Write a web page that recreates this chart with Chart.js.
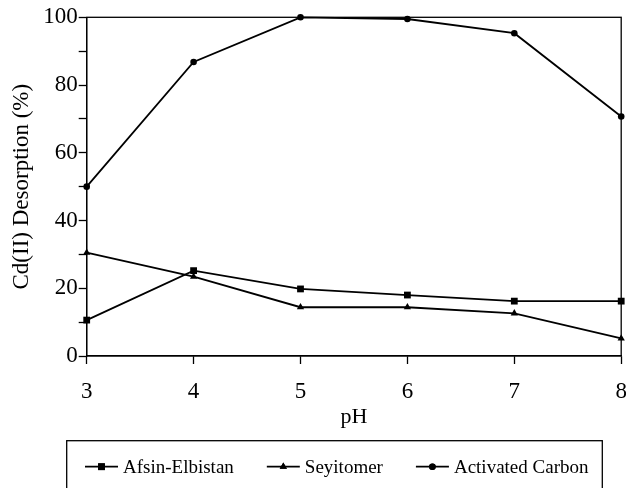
<!DOCTYPE html>
<html>
<head>
<meta charset="utf-8">
<title>Cd(II) Desorption vs pH</title>
<script src="https://cdn.jsdelivr.net/npm/chart.js@4.4.1/dist/chart.umd.min.js"></script>
<style>
  html, body { margin: 0; padding: 0; background: #fff; }
  #wrap { width: 626px; height: 488px; }
</style>
</head>
<body>
<div id="wrap"><canvas id="desorptionChart" width="626" height="488"></canvas></div>
<script>
// ── Data ─────────────────────────────────────
const phLabels        = ['3', '4', '5', '6', '7', '8'];
const afsinElbistan   = [10.6, 25.2, 19.8, 18.0, 16.2, 16.2];
const seyitomer       = [30.5, 23.4, 14.4, 14.4, 12.6, 5.2];
const activatedCarbon = [50.0, 86.8, 100.0, 99.5, 95.3, 70.7];
const seriesNames     = ['Afsin-Elbistan', 'Seyitomer', 'Activated Carbon'];

const SERIF = '"Liberation Serif", "Times New Roman", serif';
const INK = '#000';

// ── Plot frame (top and right edges of the box) ──
const framePlugin = {
  id: 'frame',
  afterDraw(chart) {
    const { ctx, chartArea: a } = chart;
    ctx.save();
    ctx.strokeStyle = INK;
    ctx.lineWidth = 1.3;
    ctx.strokeRect(a.left, a.top, a.right - a.left, a.bottom - a.top);
    ctx.restore();
  }
};

// ── Boxed legend under the axis, line + marker samples ──
const boxLegendPlugin = {
  id: 'boxLegend',
  afterDraw(chart) {
    const ctx = chart.ctx;
    const boxTop = 440.7;
    const rowY = 466.7;
    ctx.save();
    ctx.strokeStyle = INK;
    ctx.lineWidth = 1.3;
    ctx.strokeRect(66.7, boxTop, 535.6, 100);

    ctx.font = '19px ' + SERIF;
    ctx.fillStyle = INK;
    ctx.textBaseline = 'middle';
    ctx.textAlign = 'left';

    let x = 85;
    chart.data.datasets.forEach(ds => {
      ctx.beginPath();
      ctx.lineWidth = 1.8;
      ctx.moveTo(x, rowY);
      ctx.lineTo(x + 33, rowY);
      ctx.stroke();
      Chart.helpers.drawPoint(ctx, {
        pointStyle: ds.pointStyle,
        radius: ds.pointRadius,
        rotation: 0,
        borderWidth: 0
      }, x + 16.5, rowY);
      ctx.fill();
      ctx.fillText(ds.label, x + 38, rowY + 1);
      x += 38 + ctx.measureText(ds.label).width + 33;
    });
    ctx.restore();
  }
};

function makeSeries(label, data, style, radius) {
  return {
    label,
    data,
    borderColor: INK,
    backgroundColor: INK,
    borderWidth: 1.8,
    pointStyle: style,
    pointRadius: radius,
    pointHoverRadius: radius,
    pointBackgroundColor: INK,
    pointBorderColor: INK,
    pointBorderWidth: 0,
    tension: 0,
    clip: false
  };
}

const ctx = document.getElementById('desorptionChart').getContext('2d');

new Chart(ctx, {
  type: 'line',
  data: {
    labels: phLabels,
    datasets: [
      makeSeries(seriesNames[0], afsinElbistan, 'rect', 4.8),
      makeSeries(seriesNames[1], seyitomer, 'triangle', 4.2),
      makeSeries(seriesNames[2], activatedCarbon, 'circle', 3.3)
    ]
  },
  options: {
    responsive: false,
    animation: false,
    layout: { padding: { top: 17.3, right: 0, bottom: 57.8, left: 0 } },
    plugins: {
      legend: { display: false },
      tooltip: { enabled: false }
    },
    scales: {
      x: {
        type: 'category',
        offset: false,
        grid: { drawOnChartArea: false, tickLength: 8, tickColor: INK, tickWidth: 1.3 },
        border: { display: true, color: INK, width: 1.3 },
        ticks: { color: INK, font: { family: SERIF, size: 23 }, padding: 14, maxRotation: 0 },
        title: {
          display: true,
          text: 'pH',
          color: INK,
          font: { family: SERIF, size: 22 },
          padding: { top: 0, bottom: 0 }
        },
        afterFit(scale) {
          scale.height = 74.2;
          scale.paddingRight = 4.3;
        }
      },
      y: {
        min: 0,
        max: 100,
        grid: { drawOnChartArea: false, tickLength: 8, tickColor: INK, tickWidth: 1.3 },
        border: { display: true, color: INK, width: 1.3 },
        ticks: {
          stepSize: 10,
          color: INK,
          padding: 1,
          font: { family: SERIF, size: 23 },
          callback: v => (v % 20 === 0 ? v : '')
        },
        title: {
          display: true,
          text: 'Cd(II) Desorption (%)',
          color: INK,
          font: { family: SERIF, size: 23 },
          padding: { top: 8.2, bottom: 0 }
        },
        afterFit(scale) {
          scale.width = 86.7;
        }
      }
    }
  },
  plugins: [framePlugin, boxLegendPlugin]
});
</script>
</body>
</html>
